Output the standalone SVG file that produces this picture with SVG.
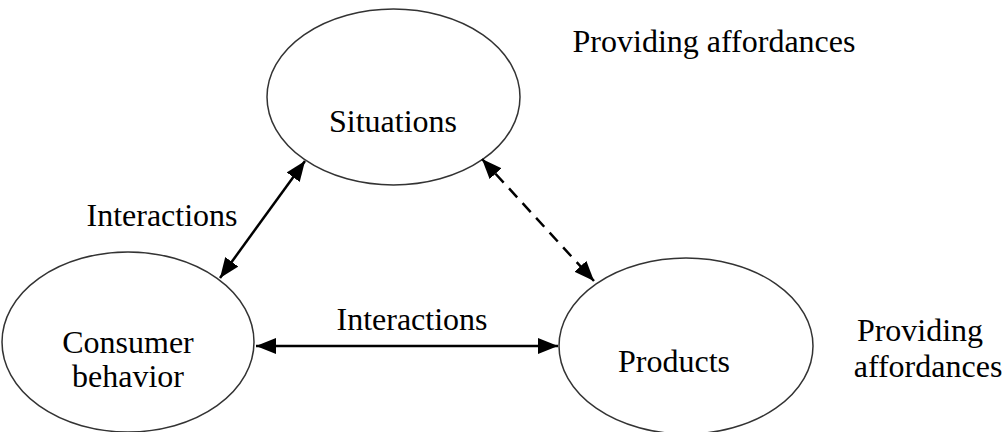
<svg xmlns="http://www.w3.org/2000/svg" width="1004" height="432" viewBox="0 0 1004 432">
<style>
.node{fill:#fff;stroke:#333;stroke-width:1.5}
.t{font-family:"Liberation Serif","Times New Roman",serif;font-size:32px;fill:#000}
.c{stroke:#000;stroke-width:2.5;fill:none}
</style>
<defs>
<marker id="a" viewBox="0 0 20 16" refX="20" refY="8" markerWidth="20" markerHeight="16" markerUnits="userSpaceOnUse" orient="auto-start-reverse">
<path d="M0,0 L20,8 L0,16 z" fill="#000"/>
</marker>
</defs>
<rect width="1004" height="432" fill="#fff"/>
<g id="situations">
<ellipse class="node" cx="393.5" cy="97" rx="126.5" ry="88"/>
<text class="t" x="393" y="132" text-anchor="middle">Situations</text>
</g>
<g id="consumer">
<ellipse class="node" cx="128" cy="342" rx="126" ry="90"/>
<text class="t" x="128" y="353" text-anchor="middle">Consumer</text>
<text class="t" x="128" y="387" text-anchor="middle">behavior</text>
</g>
<g id="products">
<ellipse class="node" cx="686" cy="346" rx="127" ry="88"/>
<text class="t" x="674" y="372" text-anchor="middle">Products</text>
</g>
<g id="connectors">
<line class="c" x1="220" y1="278" x2="305" y2="161" marker-start="url(#a)" marker-end="url(#a)"/>
<line class="c" x1="256" y1="346" x2="558" y2="346" marker-start="url(#a)" marker-end="url(#a)"/>
<line class="c" x1="482" y1="159" x2="594" y2="281" stroke-dasharray="12,8" marker-start="url(#a)" marker-end="url(#a)"/>
</g>
<g id="labels">
<text class="t" x="162" y="226" text-anchor="middle">Interactions</text>
<text class="t" x="412" y="330" text-anchor="middle">Interactions</text>
<text class="t" x="714" y="52" text-anchor="middle">Providing affordances</text>
<text class="t" x="920" y="341" text-anchor="middle">Providing</text>
<text class="t" x="928" y="377" text-anchor="middle">affordances</text>
</g>
</svg>
